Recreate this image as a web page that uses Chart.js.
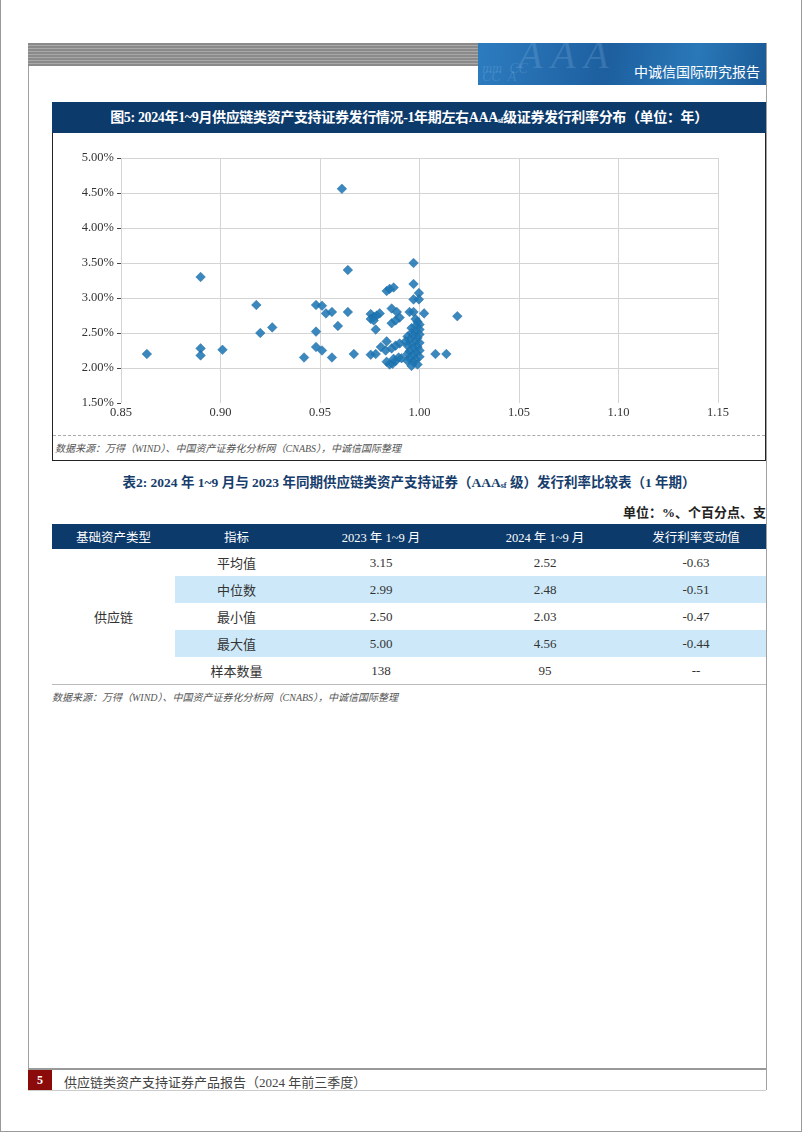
<!DOCTYPE html>
<html>
<head>
<meta charset="utf-8">
<script src="https://cdn.jsdelivr.net/npm/chart.js@4.4.0/dist/chart.umd.min.js"></script>
<style>
  html, body { margin: 0; padding: 0; background: #fff; }
  body { width: 802px; height: 1133px; position: relative; overflow: hidden;
         font-family: "Liberation Serif", "Noto Sans CJK SC", serif; color: #333; }
  .abs { position: absolute; }
  #page { left: 0; top: 0; width: 800px; height: 1131px; border-left: 1px solid #999; border-right: 1px solid #999; border-bottom: 1px solid #999; }
  #stripe { left: 28px; top: 43px; width: 450px; height: 23px;
            background: repeating-linear-gradient(to bottom, #8a8a8a 0, #8a8a8a 2px, #a9a9a9 2px, #a9a9a9 3px); }
  #brand { left: 478px; top: 43px; width: 288px; height: 42px; overflow: hidden;
           background: linear-gradient(100deg, #2d7cc0 0%, #1d5f9f 45%, #2a78b8 75%, #1a5a97 100%); }
  #brand .deco { position: absolute; color: rgba(150,195,235,0.22); font-family: "Liberation Serif", serif; font-style: italic; }
  #brand .name { position: absolute; right: 6px; top: 18px; color: #fff; font-size: 14px; font-family: "Noto Sans CJK SC", sans-serif; }
  .vline { width: 1px; background: #a0a0a0; }
  #titlebar { left: 52px; top: 102px; width: 714px; height: 31px; background: #0c3a6b; color: #fff;
              font-size: 14px; font-weight: bold; text-align: center; line-height: 31px; letter-spacing: -0.35px;
              font-family: "Liberation Serif", "Noto Sans CJK SC", serif; }
  sub { font-size: 8px; vertical-align: -1px; }
  #chartbox { left: 52px; top: 133px; width: 712px; height: 327px; border: 1px solid #222; border-top: none; }
  #dash { left: 53px; top: 435px; width: 712px; height: 0; border-top: 1px dashed #aaa; }
  .src { font-size: 10px; font-style: italic; color: #555; font-family: "Liberation Serif", "Noto Sans CJK SC", serif; white-space: nowrap; }
  #tabtitle { left: 52px; top: 471px; width: 714px; text-align: center; font-size: 13.5px; font-weight: bold; color: #163d6c; }
  #unit { left: 560px; top: 502px; width: 206px; overflow: hidden; white-space: nowrap; text-align: right; font-size: 13px; font-weight: bold; color: #222; }
  table { position: absolute; left: 52px; top: 524px; width: 714px; border-collapse: collapse; table-layout: fixed; font-size: 13px; }
  th { background: #0c3a6b; color: #fff; font-weight: normal; height: 25px; padding: 0; font-size: 12.5px; }
  td { height: 27px; padding: 0; text-align: center; color: #333; }
  tr.hl td.v { background: #cde9f9; }
  tr.last td { border-bottom: 1px solid #bbb; }
  #footline { left: 28px; top: 1068px; width: 738px; height: 2px; background: #999; }
  #pageno { left: 28px; top: 1070px; width: 24px; height: 20px; background: #8b0b0b; color: #fff; font-weight: bold; font-size: 12px; line-height: 20px; text-align: center; }
  #foottext { left: 64px; top: 1072px; font-size: 13px; color: #444; }
  #footbottom { left: 28px; top: 1090px; width: 738px; height: 1px; background: #ccc; }
</style>
</head>
<body>
<div id="page" class="abs"></div>
<div id="stripe" class="abs"></div>
<div id="brand" class="abs">
  <span class="deco" style="left:40px;top:-12px;font-size:40px;">A A A</span>
  <span class="deco" style="left:4px;top:18px;font-size:14px;">mm&nbsp;&nbsp;CC</span>
  <span class="deco" style="left:4px;top:26px;font-size:14px;">CC&nbsp;&nbsp;A</span>
  <span class="name">中诚信国际研究报告</span>
</div>
<div class="abs vline" style="left:28px;top:66px;height:1024px;"></div>
<div class="abs vline" style="left:766px;top:43px;height:1047px;"></div>

<div id="titlebar" class="abs">图5: 2024年1~9月供应链类资产支持证券发行情况-1年期左右AAA<sub>sf</sub>级证券发行利率分布（单位：年）</div>
<div id="chartbox" class="abs"></div>
<canvas id="scatterChart" class="abs" style="left:53px;top:134px;" width="712" height="300"></canvas>
<div id="dash" class="abs"></div>
<div class="abs src" style="left:55px;top:440px;">数据来源：万得（WIND）、中国资产证券化分析网（CNABS），中诚信国际整理</div>

<div id="tabtitle" class="abs">表2: 2024 年 1~9 月与 2023 年同期供应链类资产支持证券（AAA<sub>sf</sub> 级）发行利率比较表（1 年期）</div>
<div id="unit" class="abs">单位：%、个百分点、支</div>

<table>
  <colgroup><col style="width:123px"><col style="width:123px"><col style="width:166px"><col style="width:162px"><col style="width:140px"></colgroup>
  <thead><tr><th>基础资产类型</th><th>指标</th><th>2023 年 1~9 月</th><th>2024 年 1~9 月</th><th>发行利率变动值</th></tr></thead>
  <tbody id="tbody"></tbody>
</table>
<div class="abs src" style="left:52px;top:689px;">数据来源：万得（WIND）、中国资产证券化分析网（CNABS），中诚信国际整理</div>

<div id="footline" class="abs"></div>
<div id="pageno" class="abs">5</div>
<div id="foottext" class="abs">供应链类资产支持证券产品报告（2024 年前三季度）</div>
<div id="footbottom" class="abs"></div>

<script>
// Scatter: term (years) vs issue rate (%)
const termYears = [
    0.863, 0.890, 0.890, 0.890, 0.901, 0.918, 0.920, 0.926, 0.942, 0.948,
    0.951, 0.948, 0.948, 0.951, 0.953, 0.956, 0.956, 0.959, 0.961, 0.964,
    0.964, 0.967, 0.9755, 0.9755, 0.977, 0.9785, 0.980, 0.977, 0.978, 0.9755,
    0.978, 0.9835, 0.985, 0.987, 0.9835, 0.9806, 0.983, 0.986, 0.988, 0.990,
    0.9835, 0.985, 0.9865, 0.988, 0.987, 0.9895, 0.991, 0.986, 0.9886, 0.986,
    0.988, 0.990, 0.995, 0.997, 0.997, 0.9997, 0.997, 0.9997, 0.997, 1.0023,
    1.008, 1.0135, 1.019,
    0.998, 0.999, 1.000, 0.998, 0.996, 1.000, 0.998, 0.996, 1.000, 0.994,
    0.997, 0.999, 0.995, 0.993, 0.998, 1.000, 0.996, 0.994, 0.999, 0.997,
    1.000, 0.995, 0.998, 0.994, 0.997, 1.000, 0.995, 0.998, 0.994, 0.997,
    0.999, 0.996
];
const issueRates = [
    2.20, 3.30, 2.28, 2.18, 2.26, 2.90, 2.50, 2.58, 2.15, 2.90,
    2.89, 2.52, 2.30, 2.25, 2.78, 2.80, 2.15, 2.60, 4.56, 3.40,
    2.80, 2.20, 2.77, 2.70, 2.73, 2.75, 2.78, 2.68, 2.55, 2.19,
    2.20, 3.10, 3.13, 3.15, 2.38, 2.30, 2.25, 2.28, 2.32, 2.35,
    2.09, 2.05, 2.06, 2.10, 2.13, 2.15, 2.14, 2.85, 2.80, 2.64,
    2.68, 2.72, 2.80, 3.20, 3.50, 3.07, 2.98, 2.98, 2.80, 2.78,
    2.20, 2.20, 2.74,
    2.70, 2.66, 2.62, 2.60, 2.57, 2.55, 2.52, 2.50, 2.48, 2.45,
    2.46, 2.43, 2.40, 2.38, 2.38, 2.36, 2.34, 2.32, 2.30, 2.28,
    2.25, 2.24, 2.22, 2.20, 2.18, 2.16, 2.14, 2.12, 2.10, 2.08,
    2.05, 2.03
];
const xTicks = [0.85, 0.90, 0.95, 1.00, 1.05, 1.10, 1.15];
const yTicks = [1.50, 2.00, 2.50, 3.00, 3.50, 4.00, 4.50, 5.00];

// Table 2
const tableIndicators = ['平均值', '中位数', '最小值', '最大值', '样本数量'];
const rates2023 = ['3.15', '2.99', '2.50', '5.00', '138'];
const rates2024 = ['2.52', '2.48', '2.03', '4.56', '95'];
const rateChanges = ['-0.63', '-0.51', '-0.47', '-0.44', '--'];

const tbody = document.getElementById('tbody');
tableIndicators.forEach((name, i) => {
    const tr = document.createElement('tr');
    if (i % 2 === 1) tr.className = 'hl';
    if (i === tableIndicators.length - 1) tr.className = 'last';
    let html = '';
    if (i === 0) html += '<td rowspan="5" style="border-bottom:1px solid #bbb;">供应链</td>';
    html += '<td class="v">' + name + '</td><td class="v">' + rates2023[i] + '</td><td class="v">' +
        rates2024[i] + '</td><td class="v">' + rateChanges[i] + '</td>';
    tr.innerHTML = html;
    tbody.appendChild(tr);
});

const tickFont = { family: 'Liberation Serif', size: 12.5 };
const GRID = '#d4d4d4';

new Chart(document.getElementById('scatterChart'), {
    type: 'scatter',
    data: {
        datasets: [{
            data: termYears.map((x, i) => ({ x: x, y: issueRates[i] })),
            pointStyle: 'rectRot',
            pointRadius: 4.8,
            backgroundColor: 'rgba(31, 119, 180, 0.88)',
            borderColor: 'rgba(25, 100, 160, 0.9)',
            borderWidth: 0.5
        }]
    },
    options: {
        responsive: false,
        animation: false,
        layout: { padding: { top: 24, right: 47, left: 0, bottom: 0 } },
        plugins: {
            legend: { display: false },
            tooltip: { enabled: false }
        },
        scales: {
            x: {
                type: 'linear',
                min: 0.85,
                max: 1.15,
                afterBuildTicks: s => { s.ticks = xTicks.map(v => ({ value: v })); },
                afterFit: s => { s.height = 31; },
                ticks: { font: tickFont, color: '#333', padding: 2, callback: v => v.toFixed(2) },
                grid: { color: GRID, drawTicks: false },
                border: { display: false }
            },
            y: {
                min: 1.5,
                max: 5,
                afterBuildTicks: s => { s.ticks = yTicks.map(v => ({ value: v })); },
                afterFit: s => { s.width = 68; },
                ticks: { font: tickFont, color: '#333', padding: 3, callback: v => v.toFixed(2) + '%' },
                grid: {
                    color: c => (c.tick && c.tick.value === 1.5) ? 'rgba(0,0,0,0)' : GRID,
                    tickColor: '#444',
                    tickLength: 4
                },
                border: { display: false }
            }
        }
    }
});
</script>
</body>
</html>
